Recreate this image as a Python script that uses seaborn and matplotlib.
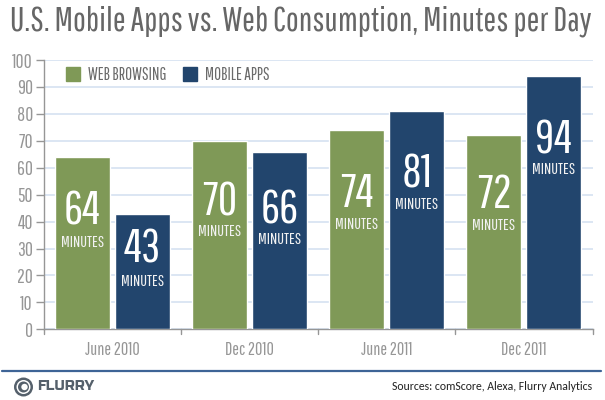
import logging
import matplotlib
matplotlib.use("Agg")
import matplotlib.pyplot as plt
from matplotlib.lines import Line2D
from matplotlib.patches import Ellipse
import pandas as pd
import seaborn as sns

logging.getLogger("matplotlib.font_manager").setLevel(logging.ERROR)

periods = ["June 2010", "Dec 2010", "June 2011", "Dec 2011"]
web_browsing = [64, 70, 74, 72]
mobile_apps = [43, 66, 81, 94]
series_names = ["WEB BROWSING", "MOBILE APPS"]
yticks = list(range(0, 101, 10))
# heights (in axis units) at which the in-bar labels sit
web_number_y = [43.9, 47.3, 50.6, 49.9]
web_unit_y = [32.4, 36.2, 39.1, 38.4]
app_number_y = [29.8, 44.4, 57.6, 70.3]
app_unit_y = [17.9, 33.2, 46.5, 59.2]

sns.set_theme(style="white")
NARROW = ["Pathway Gothic One", "Liberation Sans Narrow", "DejaVu Sans"]
plt.rcParams["font.family"] = NARROW

df = pd.DataFrame({
    "period": periods * 2,
    "minutes": web_browsing + mobile_apps,
    "series": [series_names[0]] * 4 + [series_names[1]] * 4,
})
W, H = 605, 400
fig = plt.figure(figsize=(W / 100, H / 100), dpi=100, facecolor="white")
ax = fig.add_axes([44 / W, 1 - 329.3 / H, (592.5 - 44) / W, (329.3 - 60) / H])
GREEN, NAVY = "#7F9957", "#22456D"
GREY = "#969696"
sns.barplot(data=df, x="period", y="minutes", hue="series", order=periods,
            hue_order=series_names, palette=[GREEN, NAVY], width=0.875, gap=0.083,
            saturation=1, ax=ax, legend=False, zorder=3)
ax.set_xlim(-0.5, 3.5)
ax.set_ylim(0, 100)
ax.set_yticks(yticks)
ax.set_xticks([0, 1, 2, 3])
ax.set_xticklabels(periods, color=GREY, fontsize=13)
ax.set_xlabel("")
ax.set_ylabel("")
ax.tick_params(axis="y", length=6, width=1, color=GREY, labelcolor=GREY, labelsize=14, pad=2, left=True)
ax.tick_params(axis="x", length=0, pad=9)
for b in [-0.5, 0.5, 1.5, 2.5, 3.5]:
    ax.plot([b, b], [0, -0.018], transform=ax.get_xaxis_transform(), color=GREY,
            lw=1, clip_on=False, zorder=4)
ax.grid(axis="y", color="#D5E1F1", lw=1.2, zorder=0)
ax.set_axisbelow(True)
for s in ["top", "right"]:
    ax.spines[s].set_visible(False)
for s in ["left", "bottom"]:
    ax.spines[s].set_color(GREY)
    ax.spines[s].set_linewidth(1)

for patches, vals, ny, uy in zip(ax.containers, [web_browsing, mobile_apps],
                                 [web_number_y, app_number_y], [web_unit_y, app_unit_y]):
    for p, v, a, b in zip(patches, vals, ny, uy):
        cx = p.get_x() + p.get_width() / 2
        ax.text(cx, a, str(v), color="white", fontsize=34, ha="center", va="center", zorder=5)
        ax.text(cx, b, "MINUTES", color="#F2F2F2", fontsize=11.8, ha="center", va="center", zorder=5)

handles = [plt.Rectangle((0, 0), 1, 1, color=GREEN), plt.Rectangle((0, 0), 1, 1, color=NAVY)]
leg = ax.legend(handles, series_names, loc="upper left", bbox_to_anchor=(22 / 548.5, 0.975), ncol=2,
                frameon=False, fontsize=12.2, labelcolor="#6a6a6a", handlelength=0.83, handleheight=0.9,
                handletextpad=0.46, columnspacing=0.98, borderaxespad=0, borderpad=0)

fig.text(10 / W, 1 - 21 / H, "U.S. Mobile Apps vs. Web Consumption, Minutes per Day", fontsize=24.7,
         color="#666666", ha="left", va="center")
fig.add_artist(Line2D([2 / W, 601 / W], [1 - 371 / H] * 2, color="#3E6496", lw=1.6))
fig.text(592 / W, 1 - 387 / H, "Sources: comScore, Alexa, Flurry Analytics", fontsize=8.5, color="#222222",
         family=["Carlito", "Lato", "DejaVu Sans"], ha="right", va="center")
fig.text(37 / W, 1 - 387 / H, "FLURRY", fontsize=10, color="#55606B",
         family=["Russo One", "DejaVu Sans"], ha="left", va="center")
for r, fc, dx in [(9.5, "#55606B", 0), (7, "white", 0), (5.5, "#55606B", 0), (3.2, "white", 1)]:
    fig.add_artist(Ellipse(((23.5 + dx) / W, 1 - 387 / H), 2 * r / W, 2 * r / H, transform=fig.transFigure, fc=fc, ec="none"))
fig.savefig("out.png", dpi=100)
